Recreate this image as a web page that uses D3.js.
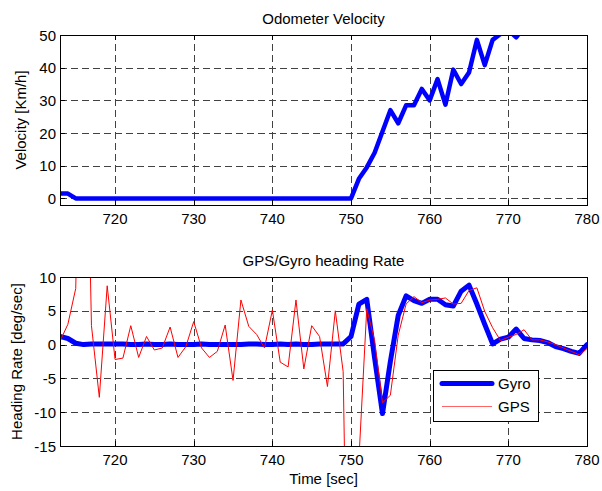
<!DOCTYPE html>
<html>
<head>
<meta charset="utf-8">
<script src="https://cdn.jsdelivr.net/npm/d3@7"></script>
<style>
  html, body { margin: 0; padding: 0; background: #fff; }
  svg text { font-family: "Liberation Sans", Arial, Helvetica, sans-serif; fill: #000; }
</style>
</head>
<body>
<svg id="chart" width="602" height="491"></svg>
<script>
// Time axis (seconds), one sample per second
const startTime = 713;

// Odometer velocity [Km/h], samples from t = 713 s
const velocity = [
  1.5, 1.5, 0, 0, 0, 0, 0, 0, 0, 0,
  0, 0, 0, 0, 0, 0, 0, 0, 0, 0,
  0, 0, 0, 0, 0, 0, 0, 0, 0, 0,
  0, 0, 0, 0, 0, 0, 0, 0,            // 713 .. 750
  6, 9.5, 14, 20.5, 27, 23, 28.5, 28.5, 33.5, 30,   // 751 .. 760
  36.5, 28.7, 39.4, 35, 38.5, 48.5, 40.8, 48.5, 50.3, 51.5, // 761 .. 770
  49.3, 52.5                          // 771 .. 772
];

// Gyro heading rate [deg/sec], samples from t = 713 s
const gyroRate = [
  1.2, 0.9, 0.2, 0.0, 0.1, 0.1, 0.1, 0.1, 0.1, 0.0,   // 713 .. 722
  0.0, 0.1, 0.0, 0.0, 0.1, 0.0, 0.0, 0.0, 0.1, 0.0,   // 723 .. 732
  0.0, 0.0, 0.0, 0.0, 0.1, 0.1, 0.0, 0.0, 0.1, 0.0,   // 733 .. 742
  0.1, 0.0, 0.0, 0.1, 0.1, 0.1, 0.1, 1.2, 6.0, 6.7,   // 743 .. 752
  -2.0, -10.2, -2.5, 4.3, 7.2, 6.5, 6.1, 6.7, 6.7, 5.9, // 753 .. 762
  5.7, 7.9, 8.8, 6.0, 3.0, 0.1, 0.8, 1.1, 2.3, 0.9,   // 763 .. 772
  0.7, 0.6, 0.3, -0.3, -0.6, -1.0, -1.3, 0.0          // 773 .. 780
];

// GPS heading rate [deg/sec], samples from t = 713 s
const gpsRate = [
  0.5, 3.0, 8.3, 60, 2.8, -7.8, 8.7, -2.2, -2.0, 2.8,   // 713 .. 722
  -1.9, 1.2, -0.8, -0.5, 2.6, -1.9, -0.3, 3.4, -0.5, -1.9, // 723 .. 732
  -1.0, 2.9, -5.3, 6.6, 2.7, 1.5, -0.5, 5.1, -2.6, -3.3, // 733 .. 742
  6.6, -3.6, 2.8, 1.2, -6.2, 5.0, -4.0, -75, -17, 5.3,  // 743 .. 752
  0.6, -8.6, -7.5, 1.4, 6.0, 7.1, 6.2, 6.6, 6.7, 6.9,   // 753 .. 762
  6.0, 6.1, 8.0, 8.4, 4.9, 2.5, 0.6, 1.1, 1.5, 2.2,     // 763 .. 772
  0.7, 0.7, 0.4, 0.0, -0.5, -1.0, -1.5, -0.6            // 773 .. 780
];

const timeTicks = [720, 730, 740, 750, 760, 770, 780];
const velocityTicks = [0, 10, 20, 30, 40, 50];
const rateTicks = [-15, -10, -5, 0, 5, 10];
const legendLabels = ["Gyro", "GPS"];

const svg = d3.select("#chart");
const plotLeft = 60, plotRight = 587;
const tickLen = 5;

const x = d3.scaleLinear().domain([713, 780]).range([plotLeft, plotRight]);

function drawPanel(cfg) {
  const y = d3.scaleLinear().domain(cfg.domain).range([cfg.bottom, cfg.top]);
  const g = svg.append("g");
  const clipId = "clip-" + cfg.id;
  svg.append("clipPath").attr("id", clipId)
    .append("rect")
    .attr("x", plotLeft).attr("y", cfg.top)
    .attr("width", plotRight - plotLeft).attr("height", cfg.bottom - cfg.top);

  // white plot background
  g.append("rect")
    .attr("x", plotLeft).attr("y", cfg.top)
    .attr("width", plotRight - plotLeft).attr("height", cfg.bottom - cfg.top)
    .attr("fill", "#fff");

  // dashed grid
  const grid = g.append("g")
    .attr("stroke", "#222").attr("stroke-width", 1)
    .attr("stroke-dasharray", "7,4").attr("opacity", 0.85);
  grid.selectAll("line.v").data(timeTicks).join("line")
    .attr("x1", d => Math.round(x(d)) + 0.5).attr("x2", d => Math.round(x(d)) + 0.5)
    .attr("y1", cfg.bottom).attr("y2", cfg.top);
  grid.selectAll("line.h").data(cfg.ticks).join("line")
    .attr("x1", plotLeft).attr("x2", plotRight)
    .attr("y1", d => Math.round(y(d)) + 0.5).attr("y2", d => Math.round(y(d)) + 0.5);

  // data series
  const lines = g.append("g").attr("clip-path", `url(#${clipId})`);
  cfg.series.forEach(s => {
    const line = d3.line()
      .x((d, i) => x(startTime + i))
      .y(d => y(d));
    lines.append("path")
      .datum(s.values)
      .attr("d", line)
      .attr("fill", "none")
      .attr("stroke", s.color)
      .attr("stroke-width", s.width)
      .attr("stroke-linejoin", "round")
      .attr("stroke-linecap", "round");
  });

  // box
  g.append("rect")
    .attr("x", plotLeft + 0.5).attr("y", cfg.top + 0.5)
    .attr("width", plotRight - plotLeft).attr("height", cfg.bottom - cfg.top)
    .attr("fill", "none").attr("stroke", "#000").attr("stroke-width", 1);

  // inward tick marks on all four sides
  const ticks = g.append("g").attr("stroke", "#000").attr("stroke-width", 1);
  timeTicks.forEach(t => {
    const px = Math.round(x(t)) + 0.5;
    ticks.append("line").attr("x1", px).attr("x2", px).attr("y1", cfg.bottom).attr("y2", cfg.bottom - tickLen);
    ticks.append("line").attr("x1", px).attr("x2", px).attr("y1", cfg.top).attr("y2", cfg.top + tickLen);
  });
  cfg.ticks.forEach(v => {
    const py = Math.round(y(v)) + 0.5;
    ticks.append("line").attr("x1", plotLeft).attr("x2", plotLeft + tickLen).attr("y1", py).attr("y2", py);
    ticks.append("line").attr("x1", plotRight).attr("x2", plotRight - tickLen).attr("y1", py).attr("y2", py);
  });

  // tick labels
  g.selectAll("text.xt").data(timeTicks).join("text")
    .attr("x", d => x(d)).attr("y", cfg.bottom + 19)
    .attr("text-anchor", "middle").attr("font-size", 15)
    .text(d => d);
  g.selectAll("text.yt").data(cfg.ticks).join("text")
    .attr("x", plotLeft - 4).attr("y", d => y(d) + 5.5)
    .attr("text-anchor", "end").attr("font-size", 15)
    .text(d => d);

  // title and y label
  g.append("text")
    .attr("x", (plotLeft + plotRight) / 2).attr("y", cfg.titleY)
    .attr("text-anchor", "middle").attr("font-size", 15)
    .text(cfg.title);
  g.append("text")
    .attr("transform", `translate(${cfg.ylabelX},${(cfg.top + cfg.bottom) / 2}) rotate(-90)`)
    .attr("text-anchor", "middle").attr("font-size", 15)
    .text(cfg.ylabel);

  return y;
}

drawPanel({
  id: "vel", top: 35, bottom: 205, domain: [-2, 50], ticks: velocityTicks,
  title: "Odometer Velocity", titleY: 24, ylabel: "Velocity [Km/h]", ylabelX: 26,
  series: [{ values: velocity, color: "#0000ff", width: 4.5 }]
});

drawPanel({
  id: "rate", top: 277, bottom: 446, domain: [-15, 10], ticks: rateTicks,
  title: "GPS/Gyro heading Rate", titleY: 266, ylabel: "Heading Rate [deg/sec]", ylabelX: 22,
  series: [
    { values: gyroRate, color: "#0000ff", width: 5 },
    { values: gpsRate, color: "#ff0000", width: 1 }
  ]
});

// x axis label
svg.append("text")
  .attr("x", (plotLeft + plotRight) / 2).attr("y", 484)
  .attr("text-anchor", "middle").attr("font-size", 15)
  .text("Time [sec]");

// legend
const legend = svg.append("g");
legend.append("rect")
  .attr("x", 433.5).attr("y", 370.5).attr("width", 105).attr("height", 51)
  .attr("fill", "#fff").attr("stroke", "#000").attr("stroke-width", 1);
const legendStyles = [{ color: "#0000ff", width: 5 }, { color: "#ff0000", width: 1 }];
legendLabels.forEach((lbl, i) => {
  const ly = 383.5 + i * 23;
  legend.append("line")
    .attr("x1", 442).attr("x2", 492).attr("y1", ly).attr("y2", ly)
    .attr("stroke", legendStyles[i].color).attr("stroke-width", legendStyles[i].width)
    .attr("stroke-linecap", i === 0 ? "round" : "butt")
    .attr("opacity", i === 0 ? 1 : 0.6);
  legend.append("text")
    .attr("x", 498).attr("y", ly + 5.5).attr("font-size", 15)
    .text(lbl);
});
</script>
</body>
</html>
